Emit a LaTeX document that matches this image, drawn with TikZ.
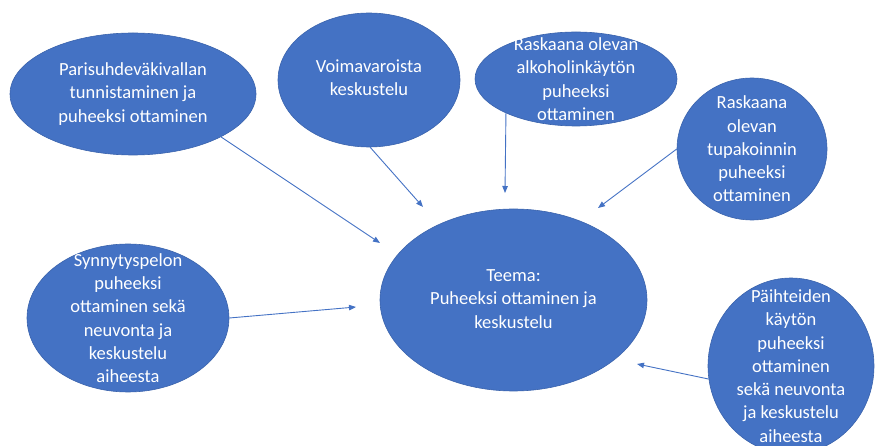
\documentclass[tikz,border=0pt]{standalone}
\usepackage{fontspec}
\setmainfont{Carlito}
\usetikzlibrary{shapes.geometric,arrows.meta}
\definecolor{bubblefill}{HTML}{4472C4}
\definecolor{bubbleline}{HTML}{3A63AC}
\definecolor{arrowcol}{HTML}{4472C4}
\tikzset{
  bubble/.style={ellipse,fill=bubblefill,draw=bubbleline,line width=0.6pt,inner sep=0pt},
  bubbletext/.style={align=center,text=white,inner sep=0pt,
    font=\fontsize{18.5pt}{23.3pt}\selectfont},
  link/.style={draw=arrowcol,line width=0.9pt,-{Triangle[length=7pt,width=5.5pt]}}
}
\begin{document}
\begin{tikzpicture}[x=1pt,y=-1pt]
\useasboundingbox (0,0) rectangle (876,446);
% bubbles
\node[bubble,minimum width=246pt,minimum height=122pt] (pari) at (133,94) {};
\node[bubble,minimum width=182pt,minimum height=134pt] (voima) at (369,80) {};
\node[bubble,minimum width=202pt,minimum height=94pt] (alko) at (576,79) {};
\node[bubble,minimum width=150pt,minimum height=142pt] (tupa) at (752,149) {};
\node[bubble,minimum width=202pt,minimum height=148pt] (synny) at (128,318) {};
\node[bubble,minimum width=267pt,minimum height=182pt] (teema) at (513.5,300) {};
\node[bubble,minimum width=166pt,minimum height=176pt] (paih) at (791,366) {};
% texts
\node[bubbletext] (paritxt) at (pari.center) {Parisuhdeväkivallan\\tunnistaminen ja\\puheeksi ottaminen};
\node[bubbletext] (voimatxt) at ([yshift=2pt]voima.center) {Voimavaroista\\keskustelu};
\node[bubbletext] (alkotxt) at (alko.center) {Raskaana olevan\\alkoholinkäytön\\puheeksi\\ottaminen};
\node[bubbletext] (tupatxt) at (tupa.center) {Raskaana\\olevan\\tupakoinnin\\puheeksi\\ottaminen};
\node[bubbletext] (synnytxt) at (synny.center) {Synnytyspelon\\puheeksi\\ottaminen sekä\\neuvonta ja\\keskustelu\\aiheesta};
\node[bubbletext] (teematxt) at ([yshift=1pt]teema.center) {Teema:\\Puheeksi ottaminen ja\\keskustelu};
\node[bubbletext] (paihtxt) at (paih.center) {Päihteiden\\käytön\\puheeksi\\ottaminen\\sekä neuvonta\\ja keskustelu\\aiheesta};
% arrow tips (free ends)
\coordinate (t1) at (380,243);
\coordinate (t2) at (423,207);
\coordinate (t3) at (505,193);
\coordinate (t4) at (598,208);
\coordinate (t5) at (356,307);
\coordinate (t6) at (637,364);
% connectors
\draw[link] (pari.-26) -- (t1);
\draw[link] (voima.-89) -- (t2);
\draw[link] (alko.-154.4) -- (t3);
\draw[link] (tupa.180) -- (t4);
\draw[link] (synny.0) -- (t5);
\draw[link] (paih.-171.8) -- (t6);
\end{tikzpicture}
\end{document}
